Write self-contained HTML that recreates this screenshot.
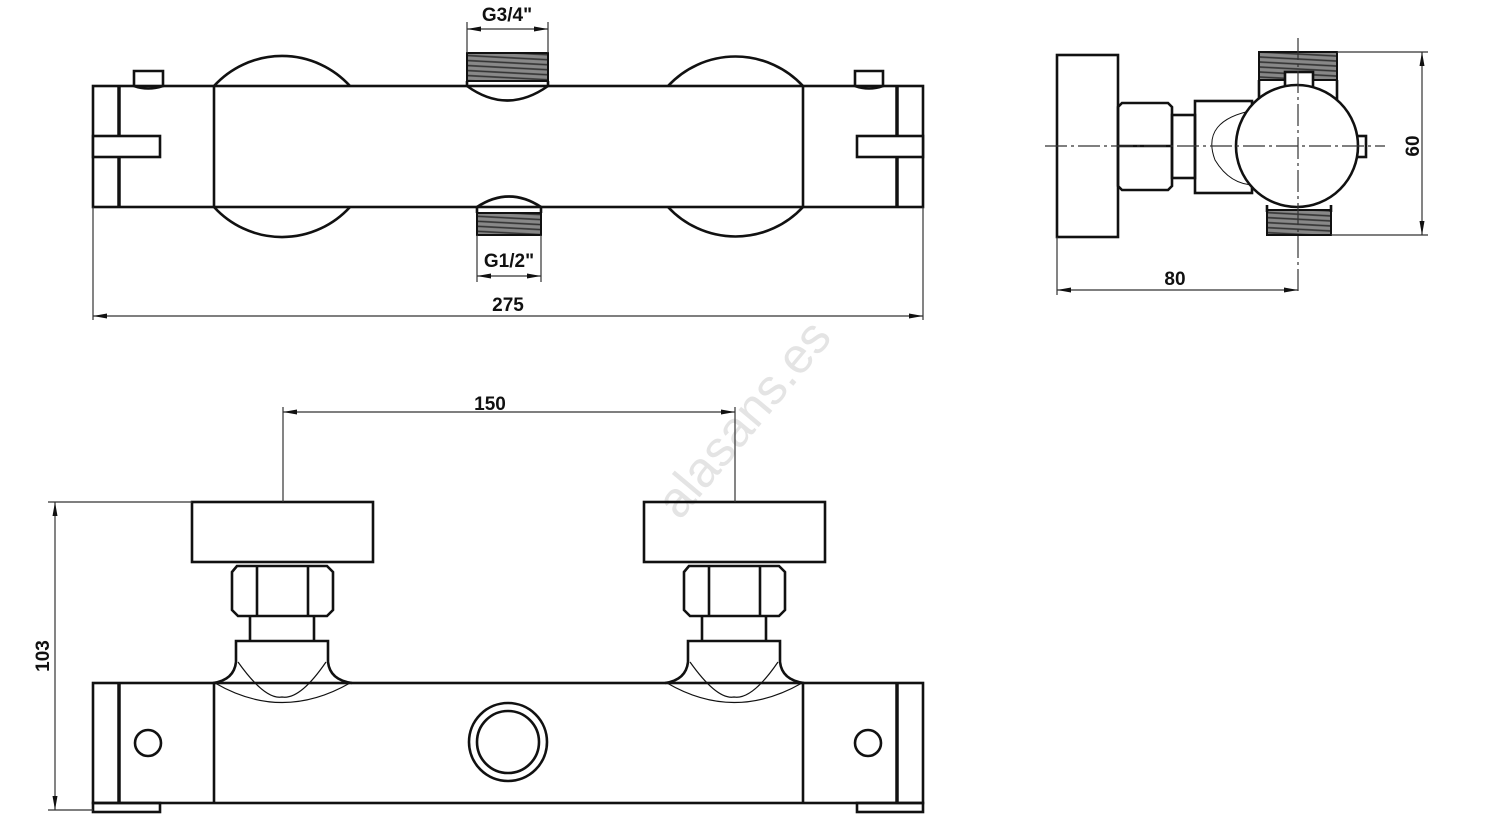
<!DOCTYPE html>
<html><head><meta charset="utf-8"><style>
html,body{margin:0;padding:0;background:#fff;width:1486px;height:825px;overflow:hidden}
svg{display:block}
text{font-family:"Liberation Sans Narrow","Liberation Sans",sans-serif;font-weight:bold;fill:#111}
</style></head><body>
<svg width="1486" height="825" viewBox="0 0 1486 825" xmlns="http://www.w3.org/2000/svg">
<defs>
<marker id="a" markerWidth="14" markerHeight="8" refX="14" refY="4" orient="auto-start-reverse" markerUnits="userSpaceOnUse"><path d="M0,1.5 L14,4 L0,6.5 Z" fill="#111"/></marker>
<pattern id="th" width="6" height="5" patternUnits="userSpaceOnUse" patternTransform="rotate(3)"><rect width="6" height="5" fill="#888"/><line x1="0" y1="1" x2="6" y2="1" stroke="#333" stroke-width="1.6"/></pattern>
</defs>
<text x="745" y="435" transform="rotate(-50 745 420)" text-anchor="middle" style="font-weight:normal;fill:#e4e4e4;font-size:50px;font-family:'Liberation Sans',sans-serif">alasans.es</text>
<g fill="none" stroke="#111" stroke-width="2.6">
<path d="M214,86 A92,92 0 0 1 350,86 M214,207 A92,92 0 0 0 350,207"/>
<path d="M668,86 A92,92 0 0 1 803,86 M668,207 A92,92 0 0 0 803,207"/>
<rect x="93" y="86" width="830" height="121"/>
<line x1="119" y1="86" x2="119" y2="207" stroke-width="3.5"/>
<line x1="897" y1="86" x2="897" y2="207" stroke-width="3.5"/>
<line x1="214" y1="86" x2="214" y2="207"/>
<line x1="803" y1="86" x2="803" y2="207"/>
<rect x="93" y="136" width="67" height="21" fill="#fff"/>
<rect x="857" y="136" width="66" height="21" fill="#fff"/>
<path d="M134,86 V71 H163 V86 Q148,91 134,86"/>
<path d="M855,86 V71 H883 V86 Q869,91 855,86"/>
<rect x="467" y="53" width="81" height="28" fill="url(#th)" stroke-width="2"/>
<path d="M467,81 V86 Q507,115 548,86 V81" />
<rect x="477" y="213" width="64" height="22" fill="url(#th)" stroke-width="2"/>
<path d="M477,213 V207 Q509,186 541,207 V213"/>
<rect x="1057" y="55" width="61" height="182"/>
<path d="M1118,107 L1122,103 H1168 L1172,107 V186 L1168,190 H1122 L1118,186 Z M1118,146 H1172"/>
<rect x="1172" y="115" width="23" height="63"/>
<rect x="1195" y="101" width="57" height="92"/>
<path d="M1255,110 Q1200,120 1215,160 Q1230,185 1255,185" stroke-width="1"/>
<rect x="1259" y="52" width="78" height="28" fill="url(#th)" stroke-width="2"/>
<rect x="1285" y="72" width="28" height="20" fill="#fff"/>
<path d="M1259,80 V110 M1337,80 V110"/>
<rect x="1267" y="210" width="64" height="25" fill="url(#th)" stroke-width="2"/>
<path d="M1267,205 V212 M1331,205 V212"/>
<rect x="1356" y="136" width="10" height="21" fill="#fff"/>
<circle cx="1297" cy="146" r="61" fill="#fff"/>
<rect x="192" y="502" width="181" height="60"/>
<rect x="644" y="502" width="181" height="60"/>
<g id="v">
<path d="M237,566 L232,572 V610 L238,616 H327 L333,610 V572 L327,566 Z M257,566 V616 M308,566 V616"/>
<path d="M250,616 V641 M314,616 V641"/>
<path d="M236,662 V641 H328 V662 Q330,680 352,683 M236,662 Q234,680 213,683"/>
<path d="M238,662 Q265,700 282,697 Q300,700 326,662 M215,683 Q282,722 350,683" stroke-width="1.2"/>
</g>
<use href="#v" x="452"/>
<rect x="93" y="683" width="830" height="120"/>
<line x1="119" y1="683" x2="119" y2="803" stroke-width="3.5"/>
<line x1="897" y1="683" x2="897" y2="803" stroke-width="3.5"/>
<line x1="214" y1="683" x2="214" y2="803"/>
<line x1="803" y1="683" x2="803" y2="803"/>
<rect x="93" y="803" width="67" height="9"/>
<rect x="857" y="803" width="66" height="9"/>
<circle cx="148" cy="743" r="13"/>
<circle cx="868" cy="743" r="13"/>
<circle cx="508" cy="742" r="39"/>
<circle cx="508" cy="742" r="31"/>
</g>
<g fill="none" stroke="#333" stroke-width="1.2">
<path d="M467,22 V53 M548,22 V53"/>
<line x1="467" y1="29" x2="548" y2="29" marker-start="url(#a)" marker-end="url(#a)"/>
<path d="M477,235 V282 M541,235 V282"/>
<line x1="477" y1="276" x2="541" y2="276" marker-start="url(#a)" marker-end="url(#a)"/>
<path d="M93,207 V320 M923,207 V320"/>
<line x1="93" y1="316" x2="923" y2="316" marker-start="url(#a)" marker-end="url(#a)"/>
<path d="M1337,52 H1428 M1331,235 H1428 M1057,237 V295"/>
<line x1="1422" y1="52" x2="1422" y2="235" marker-start="url(#a)" marker-end="url(#a)"/>
<line x1="1057" y1="290" x2="1298" y2="290" marker-start="url(#a)" marker-end="url(#a)"/>
<path d="M1045,146 H1385 M1298,38 V295" stroke-dasharray="22,4,3,4"/>
<path d="M283,407 V502 M735,407 V502"/>
<line x1="283" y1="412" x2="735" y2="412" marker-start="url(#a)" marker-end="url(#a)"/>
<path d="M48,502 H192 M48,810 H93"/>
<line x1="55" y1="502" x2="55" y2="810" marker-start="url(#a)" marker-end="url(#a)"/>
</g>
<g font-size="19">
<text x="507" y="21" text-anchor="middle">G3/4"</text>
<text x="509" y="267" text-anchor="middle">G1/2"</text>
<text x="508" y="311" text-anchor="middle">275</text>
<text x="1175" y="285" text-anchor="middle">80</text>
<text x="490" y="410" text-anchor="middle">150</text>
<text transform="translate(1419,146) rotate(-90)" text-anchor="middle">60</text>
<text transform="translate(49,656) rotate(-90)" text-anchor="middle">103</text>
</g>
</svg>
</body></html>
